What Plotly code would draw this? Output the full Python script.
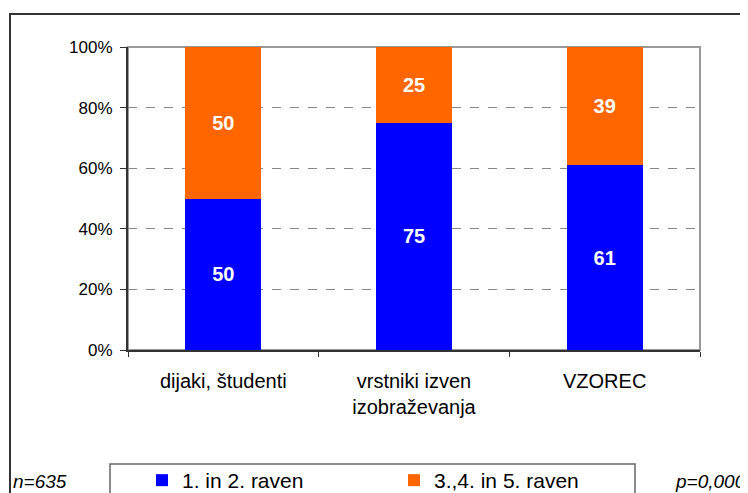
import plotly.graph_objects as go

categories = ["dijaki, študenti", "vrstniki izven<br>izobraževanja", "VZOREC"]
series_names = ["1. in 2. raven", "3.,4. in 5. raven"]
lower_values = [50, 75, 61]
upper_values = [50, 25, 39]
colors = ["#0000FF", "#FF6600"]
tick_vals = [0, 20, 40, 60, 80, 100]
tick_text = ["0%", "20%", "40%", "60%", "80%", "100%"]

# page has an 8px body margin, so the figure is shrunk and offset accordingly
W, H = 740, 485
L, R, T, B = 120, 48, 39, 143
pw, ph = W - L - R, H - T - B
OFF = 8

def px_x(x):
    return (x - OFF - L) / pw

def px_y(y):
    return (H - B - (y - OFF)) / ph

font = "Liberation Sans, Arial, sans-serif"

fig = go.Figure()
for name, vals, col in [(series_names[0], lower_values, colors[0]),
                        (series_names[1], upper_values, colors[1])]:
    fig.add_trace(go.Bar(
        x=categories, y=vals, name=name, marker=dict(color=col, line=dict(width=0)),
        text=[str(v) for v in vals], textposition="inside", insidetextanchor="middle",
        textfont=dict(family=font, size=20, color="white", weight="bold"),
        width=0.4,
    ))

fig.update_layout(
    width=W, height=H, barmode="stack",
    margin=dict(l=L, r=R, t=T, b=B, autoexpand=False),
    paper_bgcolor="white", plot_bgcolor="white",
    font=dict(family=font, size=17, color="black"),
    showlegend=True,
    legend=dict(orientation="h", x=px_x(142), y=px_y(460), xanchor="left", yanchor="top",
                entrywidth=207, entrywidthmode="pixels", itemwidth=30,
                font=dict(family=font, size=21, color="black"),
                bgcolor="rgba(0,0,0,0)", traceorder="normal"),
    xaxis=dict(type="category", showline=True, linecolor="#333", linewidth=2,
               ticks="outside", tickson="boundaries", ticklen=5, tickcolor="#333",
               ticklabelstandoff=12, showgrid=False, fixedrange=True,
               tickfont=dict(family=font, size=20, color="black")),
    yaxis=dict(range=[0, 100], tickvals=tick_vals, ticktext=tick_text,
               showline=True, linecolor="#333", linewidth=2,
               ticks="outside", ticklen=6, tickcolor="#333",
               showgrid=True, gridcolor="#888", griddash="dash", gridwidth=1,
               zeroline=False, ticklabelstandoff=4,
               tickfont=dict(family=font, size=17, color="black")),
    shapes=[
        dict(type="rect", xref="paper", yref="paper", x0=0, x1=1, y0=0, y1=1,
             line=dict(color="#999", width=2), layer="below"),
        dict(type="rect", xref="paper", yref="paper", x0=px_x(10), x1=px_x(760),
             y0=px_y(520), y1=px_y(14), line=dict(color="#333", width=2)),
        dict(type="rect", xref="paper", yref="paper", x0=px_x(110), x1=px_x(635),
             y0=px_y(520), y1=px_y(464), line=dict(color="#666", width=1.5)),
    ],
    annotations=[
        dict(text="n=635", xref="paper", yref="paper", x=px_x(11), y=px_y(481),
             xanchor="left", yanchor="middle", showarrow=False,
             font=dict(family=font, size=19, style="italic")),
        dict(text="p=0,000", xref="paper", yref="paper", x=px_x(748), y=px_y(481),
             xanchor="right", yanchor="middle", showarrow=False,
             font=dict(family=font, size=19, style="italic")),
    ],
)

fig.write_html("out.html")
